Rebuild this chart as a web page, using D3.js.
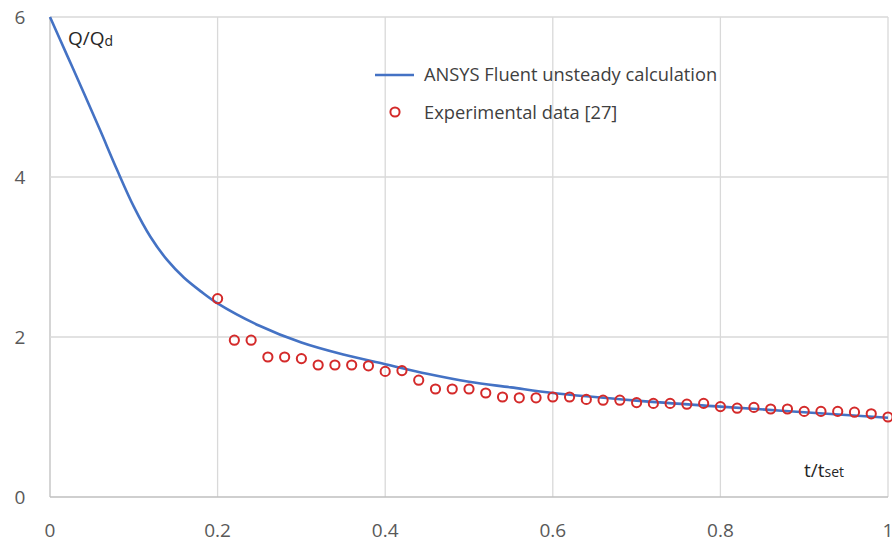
<!DOCTYPE html>
<html><head><meta charset="utf-8">
<script src="https://cdn.jsdelivr.net/npm/d3@7"></script>
<style>body{margin:0;background:#fff}svg{display:block}</style>
</head><body><svg id="c" width="892" height="543"></svg>
<script>
// Simulation curve (ANSYS Fluent unsteady calculation)
const curveT = [0,0.02,0.04,0.06,0.08,0.1,0.12,0.14,0.16,0.18,0.2,0.25,0.3,0.35,0.4,0.45,0.5,0.55,0.6,0.7,0.8,0.9,1.0];
const curveQ = [6,5.53,5.06,4.58,4.09,3.63,3.25,2.96,2.74,2.57,2.42,2.14,1.93,1.78,1.66,1.54,1.44,1.37,1.30,1.205,1.13,1.06,0.99];
// Experimental data [27]
const expT = [0.2,0.22,0.24,0.26,0.28,0.3,0.32,0.34,0.36,0.38,0.4,0.42,0.44,0.46,0.48,0.5,0.52,0.54,0.56,0.58,0.6,0.62,0.64,0.66,0.68,0.7,0.72,0.74,0.76,0.78,0.8,0.82,0.84,0.86,0.88,0.9,0.92,0.94,0.96,0.98,1.0];
const expQ = [2.48,1.96,1.96,1.75,1.75,1.73,1.65,1.65,1.65,1.64,1.57,1.58,1.46,1.35,1.35,1.35,1.30,1.25,1.24,1.24,1.25,1.25,1.22,1.21,1.21,1.18,1.17,1.17,1.16,1.17,1.13,1.11,1.12,1.10,1.10,1.07,1.07,1.07,1.06,1.04,1.00];
const xTicks = [0,0.2,0.4,0.6,0.8,1];
const xTickLabels = ["0","0.2","0.4","0.6","0.8","1"];
const yTicks = [0,2,4,6];
const yTickLabels = ["0","2","4","6"];
const seriesNames = ["ANSYS Fluent unsteady calculation","Experimental data [27]"];

const svg = d3.select("#c");
const font = "'Open Sans', 'DejaVu Sans', sans-serif";
const x = d3.scaleLinear().domain([0,1]).range([50,888]);
const y = d3.scaleLinear().domain([0,6]).range([497,17]);

// grid
const g = svg.append("g");
g.selectAll(".vg").data(xTicks).join("line")
  .attr("x1",d=>x(d)).attr("x2",d=>x(d)).attr("y1",y(0)).attr("y2",y(6))
  .attr("stroke",d=>d===0?"#bfbfbf":"#d9d9d9").attr("stroke-width",1.3);
g.selectAll(".hg").data(yTicks).join("line")
  .attr("x1",x(0)).attr("x2",x(1)).attr("y1",d=>y(d)).attr("y2",d=>y(d))
  .attr("stroke",d=>d===0?"#bfbfbf":"#d9d9d9").attr("stroke-width",1.3);

// tick labels
svg.append("g").selectAll("text").data(xTicks).join("text")
  .attr("x",d=>x(d)).attr("y",537).attr("text-anchor","middle")
  .attr("font-family",font).attr("font-size",19).attr("fill","#595959")
  .text((d,i)=>xTickLabels[i]);
svg.append("g").selectAll("text").data(yTicks).join("text")
  .attr("x",20).attr("y",d=>y(d)+7).attr("text-anchor","middle")
  .attr("font-family",font).attr("font-size",19).attr("fill","#595959")
  .text((d,i)=>yTickLabels[i]);

// curve
const line = d3.line().x(d=>x(d[0])).y(d=>y(d[1])).curve(d3.curveCatmullRom.alpha(0.5));
svg.append("path").datum(curveT.map((t,i)=>[t,curveQ[i]]))
  .attr("d",line).attr("fill","none").attr("stroke","#4472c4").attr("stroke-width",2.6);

// points
svg.append("g").selectAll("circle").data(expT.map((t,i)=>[t,expQ[i]])).join("circle")
  .attr("cx",d=>x(d[0])).attr("cy",d=>y(d[1])).attr("r",4.6)
  .attr("fill","none").attr("stroke","#d42a2a").attr("stroke-width",2);

// axis titles
const qt = svg.append("text").attr("x",68).attr("y",45).attr("font-family",font).attr("font-size",19).attr("fill","#262626");
qt.append("tspan").text("Q/Q");
qt.append("tspan").attr("font-size",14).attr("dy",1).text("d");
const tt = svg.append("text").attr("x",804).attr("y",477).attr("font-family",font).attr("font-size",19).attr("fill","#262626");
tt.append("tspan").text("t/t");
tt.append("tspan").attr("font-size",14).attr("dy",0).text("set");

// legend
svg.append("line").attr("x1",375).attr("x2",414).attr("y1",75).attr("y2",75).attr("stroke","#4472c4").attr("stroke-width",2.6);
svg.append("circle").attr("cx",395).attr("cy",112).attr("r",4.6).attr("fill","none").attr("stroke","#d42a2a").attr("stroke-width",2);
svg.append("text").attr("x",424).attr("y",81).attr("font-family",font).attr("font-size",18.3).attr("fill","#404040").text(seriesNames[0]);
svg.append("text").attr("x",424).attr("y",119).attr("font-family",font).attr("font-size",18.3).attr("fill","#404040").text(seriesNames[1]);
</script></body></html>
